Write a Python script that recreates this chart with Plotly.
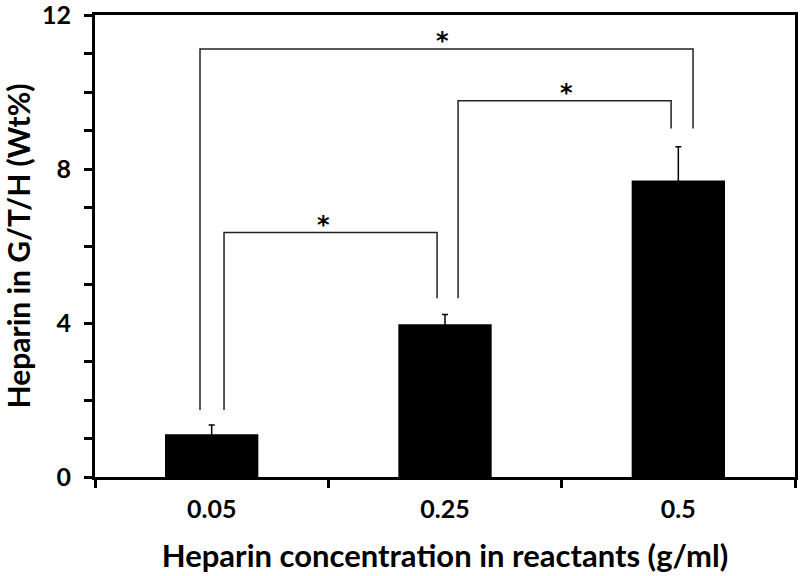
import plotly.graph_objects as go

categories = ["0.05", "0.25", "0.5"]
values = [1.11, 3.97, 7.70]
errors = [0.24, 0.25, 0.88]

# significance brackets
br_x_left = [0.053, 1.056, -0.05]
br_x_right = [0.966, 1.969, 2.063]
br_y_top = [6.35, 9.77, 11.12]
br_y_left_bottom = [1.74, 4.64, 1.74]
br_y_right_bottom = [4.64, 9.05, 9.05]
star_x = [0.48, 1.52, 0.99]
star_label = ["*", "*", "*"]

FONT = "Lato"

fig = go.Figure()
fig.add_trace(go.Bar(
    x=categories, y=values,
    marker=dict(color="black", line=dict(width=0)),
    width=0.4,
    error_y=dict(type="data", array=errors, visible=True, color="black",
                 thickness=1.5, width=3),
    showlegend=False,
))

for i in range(len(br_x_left)):
    xs = [br_x_left[i], br_x_left[i], br_x_right[i], br_x_right[i]]
    ys = [br_y_left_bottom[i], br_y_top[i], br_y_top[i], br_y_right_bottom[i]]
    path = "M {} {} L {} {} L {} {} L {} {}".format(xs[0], ys[0], xs[1], ys[1], xs[2], ys[2], xs[3], ys[3])
    fig.add_shape(type="path", path=path, xref="x", yref="y",
                  line=dict(color="#222222", width=1.5))
    fig.add_annotation(x=star_x[i], y=br_y_top[i], text=star_label[i], showarrow=False,
                       xref="x", yref="y", yanchor="middle", yshift=8,
                       font=dict(family="DejaVu Sans", size=24, color="black", weight="bold"))

fig.update_layout(
    width=800, height=576,
    margin=dict(l=95, r=5, t=15, b=99),
    paper_bgcolor="white", plot_bgcolor="white",
    font=dict(family=FONT, color="black"),
)
fig.update_xaxes(
    type="category", range=[-0.5, 2.5], automargin=False,
    showline=True, linecolor="black", linewidth=3, mirror=True,
    ticks="outside", tickson="boundaries", ticklen=8, tickwidth=2.5, tickcolor="black",
    showgrid=False, zeroline=False,
    tickfont=dict(family=FONT, size=25, color="black", weight="bold"),
    ticklabelstandoff=8,
    title=dict(text="Heparin concentration in reactants (g/ml)",
               font=dict(family=FONT, size=31, color="black", weight="bold"), standoff=24),
)
fig.update_yaxes(
    range=[0, 12], tickvals=[0, 4, 8, 12], automargin=False,
    ticklabeloverflow="allow",
    showline=True, linecolor="black", linewidth=3, mirror=True,
    ticks="outside", ticklen=8, tickwidth=2.5, tickcolor="black",
    minor=dict(dtick=1, ticks="outside", ticklen=8, tickwidth=2.5, tickcolor="black"),
    showgrid=False, zeroline=False,
    tickfont=dict(family=FONT, size=25, color="black", weight="bold"),
    ticklabelstandoff=8,
    title=dict(text="Heparin in G/T/H (Wt%)",
               font=dict(family=FONT, size=30, color="black", weight="bold"), standoff=10),
)

fig.write_html("out.html", config={"displayModeBar": False},
               post_script="document.body.style.margin='0';")
